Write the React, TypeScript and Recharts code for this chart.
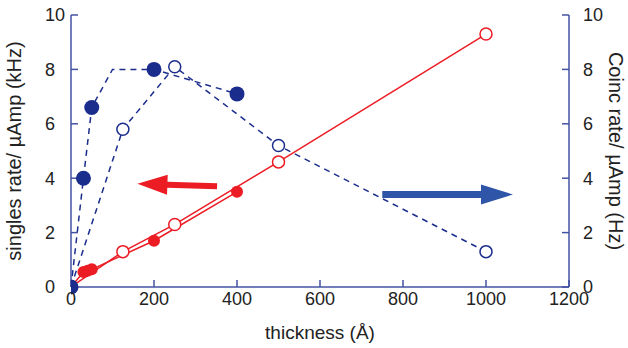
import {
  ComposedChart,
  Line,
  Scatter,
  XAxis,
  YAxis,
  ReferenceLine,
} from 'recharts';

// thickness (Å)
const singlesX = [0, 30, 50, 200, 400];
const singlesY = [0, 4, 6.6, 8, 7.1];
// hand drawn guide through the singles points
const singlesGuideX = [0, 30, 50, 100, 200, 400];
const singlesGuideY = [0, 4, 6.6, 8, 8, 7.1];

const coincX = [0, 125, 250, 500, 1000];
const coincY = [0, 5.8, 8.1, 5.2, 1.3];

const redFilledX = [0, 30, 40, 50, 200, 400];
const redFilledY = [0, 0.55, 0.6, 0.65, 1.7, 3.5];

const redOpenX = [0, 125, 250, 500, 1000];
const redOpenY = [0, 1.3, 2.3, 4.6, 9.3];

const xTicks = [0, 200, 400, 600, 800, 1000, 1200];
const yTicks = [0, 2, 4, 6, 8, 10];

const AXIS = '#4352a3';
const NAVY = '#1b2d8c';
const RED = '#ec1c24';
const ARROW_BLUE = '#2f55a8';
const TEXT = '#222';
const FONT = '"Liberation Sans", Arial, sans-serif';

const zip = (xs: number[], ys: number[]) => xs.map((x, i) => ({ x, y: ys[i] }));

const singles = zip(singlesX, singlesY);
const singlesGuide = zip(singlesGuideX, singlesGuideY);
const coinc = zip(coincX, coincY);
const redFilled = zip(redFilledX, redFilledY);
const redOpen = zip(redOpenX, redOpenY);

function Arrow(props: any) {
  const { x1, y1, x2, y2, fill, head = 30, half = 10, shaft = 3 } = props;
  const dx = x2 - x1;
  const dy = y2 - y1;
  const len = Math.sqrt(dx * dx + dy * dy) || 1;
  const ux = dx / len;
  const uy = dy / len;
  const nx = -uy;
  const ny = ux;
  const bx = x2 - ux * head;
  const by = y2 - uy * head;
  const pts = [
    [x1 + nx * shaft, y1 + ny * shaft],
    [bx + nx * shaft, by + ny * shaft],
    [bx + nx * half, by + ny * half],
    [x2, y2],
    [bx - nx * half, by - ny * half],
    [bx - nx * shaft, by - ny * shaft],
    [x1 - nx * shaft, y1 - ny * shaft],
  ]
    .map((p) => p.join(','))
    .join(' ');
  return <polygon points={pts} fill={fill} />;
}

// left axis numbers are left aligned in the original
function LeftTick({ x, y, payload }: any) {
  return (
    <text
      x={x - 20}
      y={y}
      dy="0.35em"
      textAnchor="start"
      fill={TEXT}
      fontSize={18}
      fontFamily={FONT}
    >
      {payload.value}
    </text>
  );
}

const tickStyle = { fill: TEXT, fontSize: 18, fontFamily: FONT };

export default function App() {
  return (
    <div style={{ position: 'absolute', left: 0, top: 0, background: '#fff' }}>
      <ComposedChart
        width={628}
        height={348}
        margin={{ top: 15, right: 0, bottom: 0, left: 0 }}
      >
        <XAxis
          xAxisId="b"
          dataKey="x"
          type="number"
          domain={[0, 1200]}
          ticks={xTicks}
          allowDataOverflow
          height={61}
          stroke={AXIS}
          strokeWidth={1.5}
          tickSize={-7}
          tickMargin={12}
          tick={tickStyle}
          label={{
            value: 'thickness (Å)',
            position: 'insideBottom',
            offset: 9,
            style: { fill: TEXT, fontSize: 19, fontFamily: FONT },
          }}
        />
        <XAxis
          xAxisId="t"
          dataKey="x"
          type="number"
          orientation="top"
          domain={[0, 1200]}
          ticks={xTicks}
          height={0}
          stroke={AXIS}
          strokeWidth={1.5}
          tickSize={-7}
          tick={false}
        />
        <YAxis
          yAxisId="l"
          dataKey="y"
          type="number"
          domain={[0, 10]}
          ticks={yTicks}
          width={71}
          stroke={AXIS}
          strokeWidth={1.5}
          tickSize={-7}
          tickMargin={13}
          tick={<LeftTick />}
          label={{
            value: 'singles rate/ µAmp (kHz)',
            angle: -90,
            position: 'insideLeft',
            offset: 14,
            style: { fill: TEXT, fontSize: 20, fontFamily: FONT, textAnchor: 'middle' },
          }}
        />
        <YAxis
          yAxisId="r"
          dataKey="y"
          type="number"
          orientation="right"
          domain={[0, 10]}
          ticks={yTicks}
          width={59}
          stroke={AXIS}
          strokeWidth={1.5}
          tickSize={-7}
          tickMargin={21}
          tick={tickStyle}
          label={{
            value: 'Coinc rate/ µAmp (Hz)',
            angle: 90,
            position: 'insideRight',
            offset: 12,
            style: { fill: TEXT, fontSize: 20, fontFamily: FONT, textAnchor: 'middle' },
          }}
        />

        <Line
          xAxisId="b"
          yAxisId="l"
          data={redOpen}
          dataKey="y"
          type="linear"
          stroke={RED}
          strokeWidth={1.5}
          dot={false}
          isAnimationActive={false}
        />
        <Line
          xAxisId="b"
          yAxisId="l"
          data={redFilled}
          dataKey="y"
          type="linear"
          stroke={RED}
          strokeWidth={1.5}
          dot={false}
          isAnimationActive={false}
        />
        <Line
          xAxisId="b"
          yAxisId="l"
          data={singlesGuide}
          dataKey="y"
          type="linear"
          stroke={NAVY}
          strokeWidth={1.5}
          strokeDasharray="6 5"
          dot={false}
          isAnimationActive={false}
        />
        <Line
          xAxisId="b"
          yAxisId="r"
          data={coinc}
          dataKey="y"
          type="linear"
          stroke={NAVY}
          strokeWidth={1.5}
          strokeDasharray="6 5"
          dot={false}
          isAnimationActive={false}
        />

        <Scatter
          xAxisId="b"
          yAxisId="l"
          data={redOpen}
          dataKey="y"
          isAnimationActive={false}
          shape={(p: any) => (
            <circle cx={p.cx} cy={p.cy} r={6} fill="#fff" stroke={RED} strokeWidth={1.5} />
          )}
        />
        <Scatter
          xAxisId="b"
          yAxisId="l"
          data={redFilled}
          dataKey="y"
          isAnimationActive={false}
          shape={(p: any) => <circle cx={p.cx} cy={p.cy} r={6} fill={RED} />}
        />
        <Scatter
          xAxisId="b"
          yAxisId="r"
          data={coinc}
          dataKey="y"
          isAnimationActive={false}
          shape={(p: any) => (
            <circle cx={p.cx} cy={p.cy} r={6} fill="#fff" stroke={NAVY} strokeWidth={1.5} />
          )}
        />
        <Scatter
          xAxisId="b"
          yAxisId="l"
          data={singles}
          dataKey="y"
          isAnimationActive={false}
          shape={(p: any) => <circle cx={p.cx} cy={p.cy} r={7.5} fill={NAVY} />}
        />

        <ReferenceLine
          xAxisId="b"
          yAxisId="l"
          segment={[
            { x: 352, y: 3.7 },
            { x: 160, y: 3.8 },
          ]}
          shape={(p: any) => <Arrow {...p} fill={RED} head={30} half={10} shaft={3} />}
        />
        <ReferenceLine
          xAxisId="b"
          yAxisId="l"
          segment={[
            { x: 750, y: 3.4 },
            { x: 1065, y: 3.4 },
          ]}
          shape={(p: any) => <Arrow {...p} fill={ARROW_BLUE} head={32} half={10} shaft={3.5} />}
        />
      </ComposedChart>
    </div>
  );
}
